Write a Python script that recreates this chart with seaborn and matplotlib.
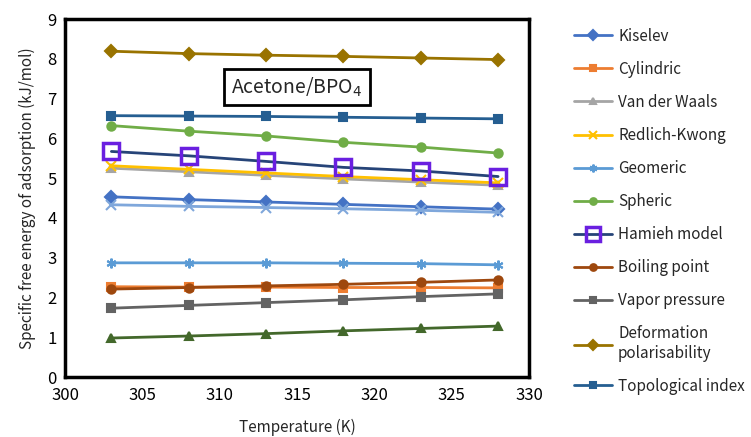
import numpy as np
import pandas as pd
import matplotlib
matplotlib.use("Agg")
import matplotlib.pyplot as plt
import seaborn as sns

temps = [303, 308, 313, 318, 323, 328]

kiselev = [4.53, 4.46, 4.40, 4.34, 4.28, 4.22]
cylindric = [2.27, 2.26, 2.26, 2.25, 2.25, 2.24]
van_der_waals = [5.25, 5.16, 5.07, 4.98, 4.90, 4.82]
redlich_kwong = [5.31, 5.22, 5.13, 5.04, 4.96, 4.88]
geomeric = [2.87, 2.87, 2.87, 2.86, 2.85, 2.82]
spheric = [6.32, 6.18, 6.06, 5.90, 5.78, 5.63]
hamieh = [5.67, 5.56, 5.42, 5.27, 5.18, 5.04]
boiling = [2.21, 2.25, 2.29, 2.33, 2.38, 2.44]
vapor = [1.73, 1.80, 1.87, 1.94, 2.02, 2.09]
deformation = [8.19, 8.13, 8.09, 8.06, 8.02, 7.98]
topological = [6.57, 6.56, 6.55, 6.53, 6.51, 6.49]
# two series plotted but cut off from the legend
extra_x = [4.33, 4.29, 4.26, 4.23, 4.19, 4.14]
extra_tri = [0.98, 1.03, 1.09, 1.16, 1.22, 1.28]

# (label, values, color, marker, in_legend)
series = [
    ("Kiselev", kiselev, "#4472C4", "D", True),
    ("Cylindric", cylindric, "#ED7D31", "s", True),
    ("Van der Waals", van_der_waals, "#A5A5A5", "^", True),
    ("Redlich-Kwong", redlich_kwong, "#FFC000", "x", True),
    ("Geomeric", geomeric, "#5B9BD5", (6, 2, 0), True),
    ("Spheric", spheric, "#70AD47", "o", True),
    ("Hamieh model", hamieh, "#264478", "s", True),
    ("Boiling point", boiling, "#9E480E", "o", True),
    ("Vapor pressure", vapor, "#636363", "s", True),
    ("Deformation\npolarisability", deformation, "#997300", "D", True),
    ("Topological index", topological, "#255E91", "s", True),
    ("series 12", extra_tri, "#43682B", "^", False),
    ("series 13", extra_x, "#7FA7DB", "x", False),
]

sns.set_style("white")
plt.rcParams['font.family'] = ['Noto Sans CJK SC', 'DejaVu Sans']

fig = plt.figure(figsize=(7.51, 4.37), dpi=100)
ax = fig.add_axes([65 / 751, 1 - 377 / 437, 464 / 751, 358 / 437])

handles = []
for label, vals, color, marker, in_leg in series:
    df = pd.DataFrame({"T": temps, "E": vals})
    if label == "Hamieh model":
        sns.lineplot(data=df, x="T", y="E", ax=ax, color=color, lw=2,
                     marker="s", markersize=12, markerfacecolor="none",
                     markeredgecolor="#6A1FE0", markeredgewidth=2.5, zorder=5)
    else:
        ms = 7 if marker in ("x", (6, 2, 0)) else 6
        sns.lineplot(data=df, x="T", y="E", ax=ax, color=color, lw=2,
                     marker=marker, markersize=ms, markeredgecolor=color,
                     markeredgewidth=1.5, markerfacecolor=color)
    if in_leg:
        handles.append((ax.lines[-1], label))

ax.set_xlim(300, 330)
ax.set_ylim(0, 9)
ax.set_xticks(range(300, 331, 5))
ax.set_yticks(range(0, 10))
ax.tick_params(axis="both", labelsize=12, width=2, length=4, colors="black", pad=3)
ax.tick_params(axis="y", direction="in", pad=6)
for sp in ax.spines.values():
    sp.set_linewidth(2.5)
    sp.set_color("black")
ax.set_xlabel("Temperature (K)", fontsize=11, labelpad=11)
ax.set_ylabel("Specific free energy of adsorption (kJ/mol)", fontsize=11, labelpad=8)

ax.text(0.50, 0.81, "Acetone/BPO$_4$", transform=ax.transAxes, ha="center", va="center",
        fontsize=14, bbox=dict(boxstyle="square,pad=0.35", fc="white", ec="black", lw=2))

fig.legend([h for h, _ in handles], [l for _, l in handles], loc="upper left",
           bbox_to_anchor=(560 / 751, 1 - 14 / 437), frameon=False, fontsize=11,
           labelspacing=1.05, handlelength=2.5, handletextpad=0.4, markerscale=0.8)

fig.savefig("out.png", dpi=100)
